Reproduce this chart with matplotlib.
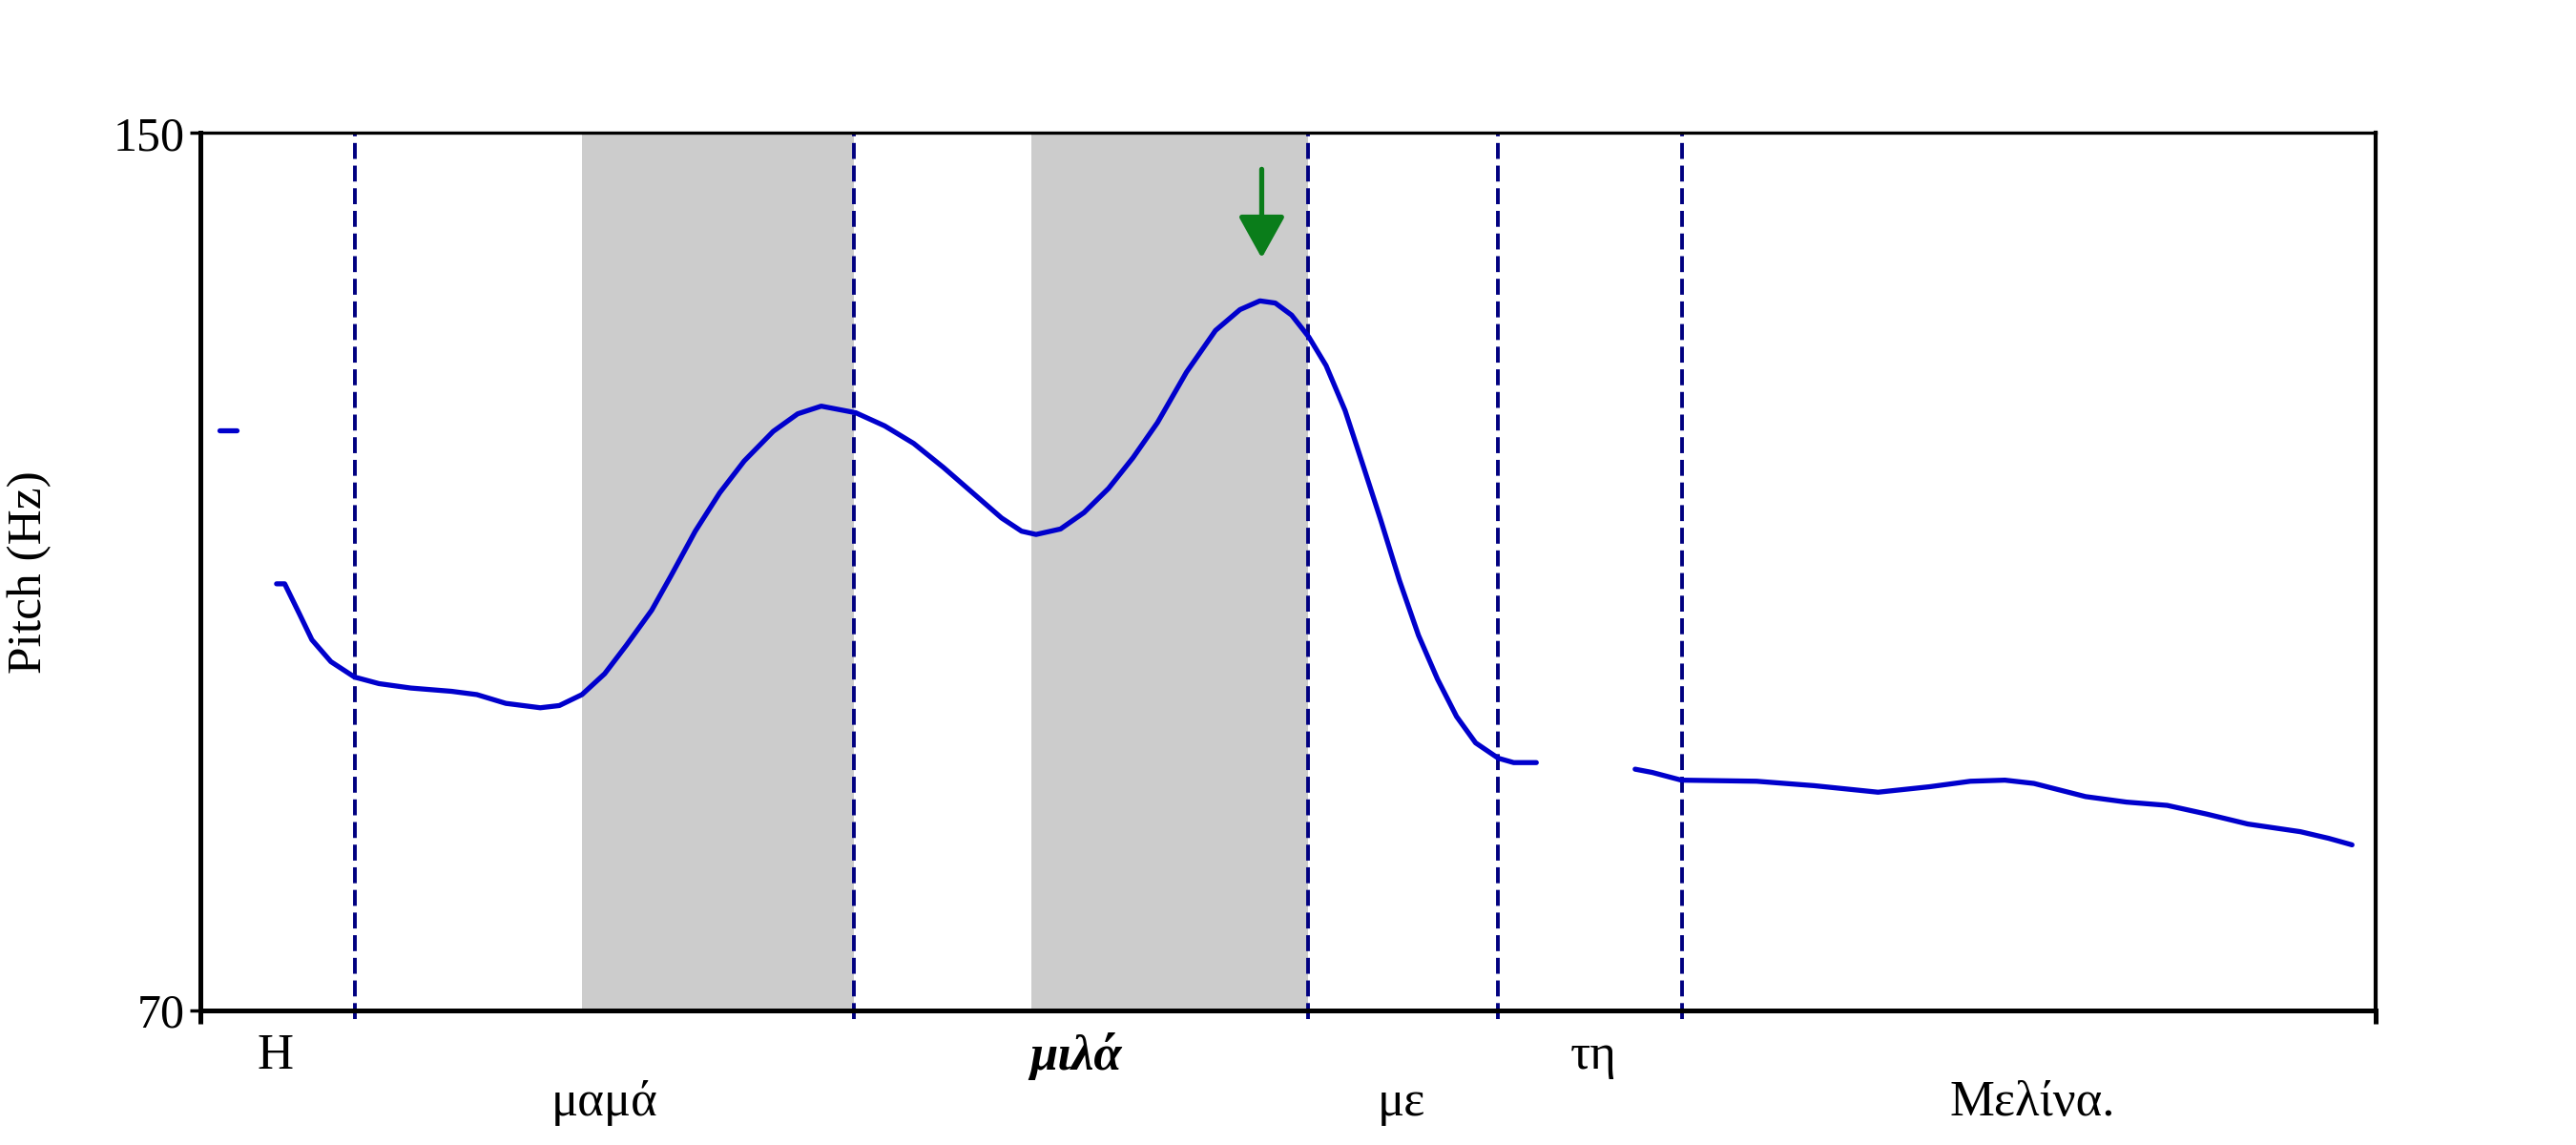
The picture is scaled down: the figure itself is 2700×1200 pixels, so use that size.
import matplotlib
matplotlib.use("Agg")
import matplotlib.pyplot as plt
import matplotlib.transforms as mtransforms

plt.rcParams['font.family'] = ['Liberation Serif', 'DejaVu Serif']

# pitch track, split where voicing breaks (time in s, pitch in Hz)
t_seg1 = [0.021, 0.040]
f0_seg1 = [122.9, 122.9]

t_seg2 = [0.084, 0.093, 0.109, 0.123, 0.144, 0.170, 0.197, 0.232, 0.277, 0.305,
          0.337, 0.375, 0.396, 0.421, 0.446, 0.470, 0.498, 0.519, 0.546, 0.573,
          0.600, 0.632, 0.659, 0.685, 0.723, 0.755, 0.787, 0.820, 0.852, 0.884,
          0.906, 0.922, 0.949, 0.975, 1.002, 1.029, 1.056, 1.088, 1.120, 1.147,
          1.169, 1.186, 1.204, 1.223, 1.242, 1.263, 1.284, 1.302, 1.323, 1.344,
          1.365, 1.386, 1.407, 1.432, 1.449, 1.474]
f0_seg2 = [108.9, 108.9, 106.2, 103.8, 101.8, 100.4, 99.8, 99.4, 99.1, 98.8,
           98.0, 97.6, 97.8, 98.8, 100.7, 103.3, 106.5, 109.6, 113.7, 117.2,
           120.1, 122.8, 124.4, 125.1, 124.5, 123.3, 121.7, 119.5, 117.2, 114.9,
           113.7, 113.4, 113.9, 115.4, 117.6, 120.4, 123.6, 128.2, 132.0, 133.9,
           134.7, 134.5, 133.4, 131.4, 128.8, 124.7, 119.4, 114.8, 109.2, 104.2,
           100.2, 96.8, 94.4, 93.0, 92.6, 92.6]

t_seg3 = [1.583, 1.602, 1.634, 1.717, 1.780, 1.851, 1.908, 1.953, 1.991, 2.023,
          2.080, 2.125, 2.170, 2.214, 2.259, 2.317, 2.348, 2.374]
f0_seg3 = [92.0, 91.7, 91.0, 90.9, 90.5, 89.9, 90.4, 90.9, 91.0, 90.7,
           89.5, 89.0, 88.7, 87.9, 87.0, 86.3, 85.7, 85.1]

# word boundaries and shaded (stressed) intervals
boundaries = [0.170, 0.721, 1.222, 1.432, 1.635]
shaded = [(0.421, 0.721), (0.917, 1.222)]

# words: upper row and lower row
words_top = ["Η", "μιλά", "τη"]
words_top_x = [0.083, 0.966, 1.537]
words_bottom = ["μαμά", "με", "Μελίνα."]
words_bottom_x = [0.446, 1.325, 2.021]

peak_t = 1.171
arrow_from, arrow_to = 146.7, 138.6

fig = plt.figure(figsize=(27, 12), dpi=100)
ax = fig.add_axes([0.0778, 0.1175, 0.8444, 0.7663])

for a, b in shaded:
    ax.axvspan(a, b, color='#cccccc', lw=0, zorder=0)

for x in boundaries:
    ax.axvline(x, ymin=-0.01, ymax=1, color='#000080', lw=2.8,
               linestyle=(0, (4.3, 1.8)), clip_on=False, zorder=1)

for tt, ff in [(t_seg1, f0_seg1), (t_seg2, f0_seg2), (t_seg3, f0_seg3)]:
    ax.plot(tt, ff, color='#0000cc', lw=3.8, solid_capstyle='round',
            solid_joinstyle='round', zorder=3)

ax.annotate('', xy=(peak_t, arrow_to), xytext=(peak_t, arrow_from),
            arrowprops=dict(arrowstyle='-|>,head_length=1.35,head_width=0.75',
                            color='#0a7d1a', lw=3.8, shrinkA=0, shrinkB=0,
                            mutation_scale=20), zorder=4)

ax.set_xlim(0, 2.4)
ax.set_ylim(70, 150)
ax.set_yticks([70, 150])
ax.set_xticks([0, 2.4])
ax.set_xticklabels([])
ax.tick_params(axis='y', direction='out', length=8, width=2.5, labelsize=36, pad=4)
ax.tick_params(axis='x', direction='out', length=10, width=3.6)

ax.spines['left'].set_linewidth(3.6)
ax.spines['bottom'].set_linewidth(3.6)
ax.spines['top'].set_linewidth(2.4)
ax.spines['right'].set_linewidth(3.0)

ax.set_ylabel("Pitch (Hz)", fontsize=37, va='center')
ax.yaxis.set_label_coords(-0.0785, 0.5)

trans = mtransforms.blended_transform_factory(ax.transData, fig.transFigure)
for w, x in zip(words_top, words_top_x):
    if w == "μιλά":
        ax.text(x, 0.0775, w, transform=trans, ha='center', va='center',
                fontsize=38, fontweight='bold', fontstyle='italic')
    else:
        ax.text(x, 0.0775, w, transform=trans, ha='center', va='center', fontsize=38)
for w, x in zip(words_bottom, words_bottom_x):
    ax.text(x, 0.037, w, transform=trans, ha='center', va='center', fontsize=38)

fig.savefig("out.png", dpi=100)
